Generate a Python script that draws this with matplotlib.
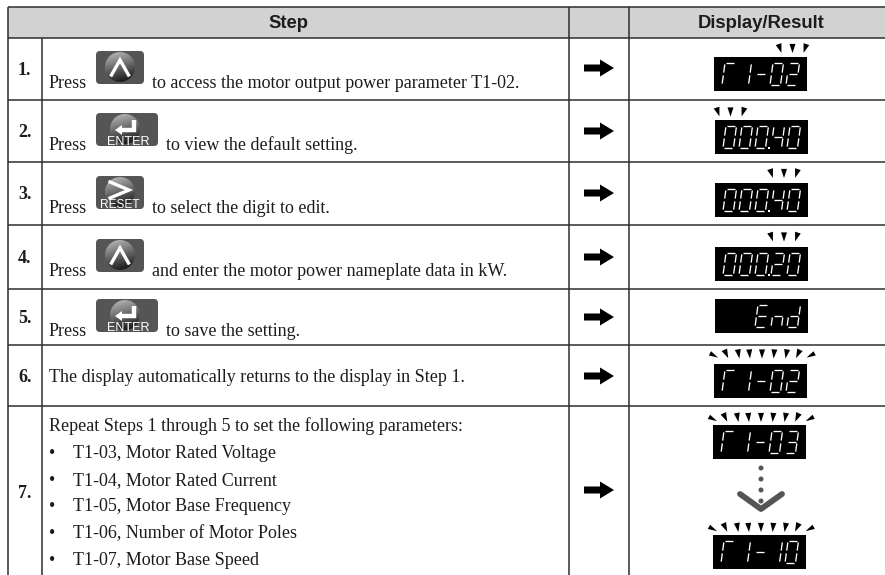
import numpy as np
import matplotlib
matplotlib.use("Agg")
import matplotlib.pyplot as plt
from matplotlib.patches import FancyBboxPatch, Circle, Polygon, Rectangle

# ---------- content ----------
headers = ["Step", "Display/Result"]
step_numbers = ["1.", "2.", "3.", "4.", "5.", "6.", "7."]
press_buttons = ["UP", "ENTER", "RESET", "UP", "ENTER"]
press_texts = ["to access the motor output power parameter T1-02.",
               "to view the default setting.",
               "to select the digit to edit.",
               "and enter the motor power nameplate data in kW.",
               "to save the setting."]
row6_text = "The display automatically returns to the display in Step 1."
row7_intro = "Repeat Steps 1 through 5 to set the following parameters:"
row7_bullets = ["T1-03, Motor Rated Voltage", "T1-04, Motor Rated Current",
                "T1-05, Motor Base Frequency", "T1-06, Number of Motor Poles",
                "T1-07, Motor Base Speed"]
# display: characters per slot, decimal slot, flashing marks
display_texts = ["T1-02", "00040", "00040", "00020", "  End", "T1-02", "T1-03", "T1-10"]
display_dots = [None, 2, 2, 2, None, None, None, None]

# ---------- layout (pixels) ----------
W, H = 885, 575
v_lines = [8, 42, 569, 629]
h_lines = [7, 37.5, 99.5, 162, 225, 289, 345, 406]
number_base = [75, 137, 199, 263, 323, 382, 498]
press_base = [88, 150, 213, 276, 336]
press_x = [152.5, 166, 152.5, 152.5, 166]
button_tops = [51, 113, 176, 239, 299]
arrow_y = [68, 131, 193, 257, 317, 376, 490]
rect_pos = [(714, 57), (715, 120), (715, 183), (715, 247), (715, 299), (714, 364), (713, 425), (713, 535)]
mark_spec = [(780, 48.5, 3), (718, 112, 3), (771.5, 173.5, 3), (771.5, 237, 3), None, (714, 354, 9), (713, 417.5, 9), (713, 527.5, 9)]

SERIF = "Liberation Serif"
SANS = "Liberation Sans"
DARK = "#2e2e2e"
TXT = "#1c1c1c"

fig = plt.figure(figsize=(W / 100, H / 100), dpi=100)
ax = fig.add_axes([0, 0, 1, 1])
ax.axis("off")

# header band
ax.add_patch(Rectangle((8, 7), W - 8, 30.5, fc="#d2d2d2", ec="none", zorder=0))
for y in h_lines:
    ax.plot([8, W], [y, y], color=DARK, lw=1.1, zorder=3, solid_capstyle="butt")
for i, x in enumerate(v_lines):
    top = 37.5 if x == 42 else 7
    ax.plot([x, x], [top, H], color=DARK, lw=1.1, zorder=3, solid_capstyle="butt")

ax.text(288.5, 28, headers[0], family=SANS, weight="bold", fontsize=13.3, ha="center", va="baseline", color=TXT)
ax.text(761, 28, headers[1], family=SANS, weight="bold", fontsize=13.3, ha="center", va="baseline", color=TXT)

for n, y in zip(step_numbers, number_base):
    ax.text(18, y, n, family=SERIF, weight="bold", fontsize=13, va="baseline", color=TXT)


def body(x, y, s):
    ax.text(x, y, s, family=SERIF, fontsize=13, va="baseline", color=TXT)


grad = np.linspace(0, 1, 64)
gx, gy = np.meshgrid(grad, grad)
grad_img = np.clip(0.75 - 0.62 * (0.25 * gx + 0.9 * gy), 0.12, 1)


def button(kind, x0, y0):
    w = 62 if kind == "ENTER" else 48
    h = 33
    ax.add_patch(FancyBboxPatch((x0 + 3, y0 + 3), w - 6, h - 6, boxstyle="round,pad=3,rounding_size=4",
                                fc="#555555", ec="none", zorder=2))
    cx = x0 + (29 if kind == "ENTER" else 24)
    cy = y0 + 16
    r = 15
    im = ax.imshow(grad_img, cmap="gray", vmin=0, vmax=1, extent=(cx - r, cx + r, cy + r, cy - r), zorder=3,
                   aspect="auto", interpolation="bilinear")
    clip = Circle((cx, cy), r, transform=ax.transData)
    im.set_clip_path(clip)
    if kind == "UP":
        ax.plot([cx - 8.5, cx, cx + 8.5], [cy + 8, cy - 7, cy + 8], color="white", lw=2.4, zorder=4,
                solid_joinstyle="miter")
    elif kind == "ENTER":
        ax.plot([cx + 9, cx + 9, cx - 5], [cy - 9, cy + 1, cy + 1], color="white", lw=3.2, zorder=4,
                solid_joinstyle="miter", solid_capstyle="butt")
        ax.add_patch(Polygon([(cx - 10, cy + 1), (cx - 3, cy - 4), (cx - 3, cy + 6)], fc="white", ec="none", zorder=4))
        ax.text(x0 + 32, y0 + 32, "ENTER", family=SANS, fontsize=9.1, color="white", ha="center", va="baseline", zorder=5)
    else:
        cy -= 2
        ax.plot([cx - 10, cx + 9, cx - 10], [cy - 8, cy, cy + 8], color="white", lw=2.4, zorder=4,
                solid_joinstyle="miter")
        ax.text(x0 + 24, y0 + 32.5, "RESET", family=SANS, fontsize=8.6, color="white", ha="center", va="baseline", zorder=5)


for i in range(5):
    body(49, press_base[i], "Press")
    body(press_x[i], press_base[i], press_texts[i])
    button(press_buttons[i], 96, button_tops[i])

body(49, 382, row6_text)
body(49, 431, row7_intro)
for s, y in zip(row7_bullets, [458, 485, 511, 538, 565]):
    ax.text(49.5, y, "\u2022", family=SERIF, fontsize=13, va="baseline", color=TXT)
    body(73, y, s)

# arrows
for y in arrow_y:
    ax.add_patch(Polygon([(584, y - 3.5), (600, y - 3.5), (600, y - 8.5), (614, y), (600, y + 8.5), (600, y + 3.5), (584, y + 3.5)],
                         fc="black", ec="none", zorder=4))

# seven-segment shapes
SEGS = {"0": "abcdef", "1": "bc", "2": "abged", "3": "abgcd", "4": "fgbc", "5": "afgcd",
        "-": "g", "T": "afe", "E": "afged", "n": "egc", "d": "bcdeg", " ": ""}
DW, DH, SL = 10.5, 22, 3.0


def seg_pts(name):
    g = 1.4
    m = DH / 2
    return {"a": ((g, 0), (DW - g, 0)), "b": ((DW, g), (DW, m - g)), "c": ((DW, m + g), (DW, DH - g)),
            "d": ((g, DH), (DW - g, DH)), "e": ((0, m + g), (0, DH - g)), "f": ((0, g), (0, m - g)),
            "g": ((g, m), (DW - g, m))}[name]


def draw_char(ch, x0, y0):
    for s in SEGS[ch]:
        (xa, ya), (xb, yb) = seg_pts(s)
        f = lambda x, y: (x0 + x + SL * (1 - y / DH), y0 + y)
        pa, pb = f(xa, ya), f(xb, yb)
        ax.plot([pa[0], pb[0]], [pa[1], pb[1]], color="white", lw=0.95, zorder=5, solid_capstyle="butt")


for (rx, ry), s, dot in zip(rect_pos, display_texts, display_dots):
    ax.add_patch(Rectangle((rx, ry), 93, 34, fc="black", ec="none", zorder=4))
    for k, ch in enumerate(s):
        draw_char(ch, rx + 8 + 16 * k, ry + 6)
    if dot is not None:
        sx = rx + 8 + 16 * dot + DW + 2.5
        ax.add_patch(Rectangle((sx, ry + 27), 1.5, 1.5, fc="white", ec="none", zorder=5))


def wedge(cx, cy, ang):
    t = np.radians(-ang)
    half = 2.4 if abs(ang) > 40 else 3.0
    pts = np.array([(-half, -4.6), (half, -4.6), (0, 4.6)])
    R = np.array([[np.cos(t), -np.sin(t)], [np.sin(t), np.cos(t)]])
    ax.add_patch(Polygon(pts @ R.T + (cx, cy), fc="black", ec="none", zorder=4))


ANG3 = [18, 0, -18]
ANG9 = [62, 25, 10, 5, 0, -5, -10, -25, -62]
OFF9 = [0, 12.3, 24.6, 35.6, 48, 60, 72.3, 84, 96.6]
for spec in mark_spec:
    if spec is None:
        continue
    x0, y0, n = spec
    if n == 3:
        for k, a in enumerate(ANG3):
            wedge(x0 + 12.5 * k, y0, a)
    else:
        for off, a in zip(OFF9, ANG9):
            wedge(x0 + off, y0 + (1.5 if abs(a) > 40 else 0), a)

# dots + chevron between last displays
for y in [468, 479, 490, 501]:
    ax.add_patch(Circle((761, y), 2.5, fc="#555555", ec="none", zorder=4))
ax.plot([740, 761, 782], [494, 509, 494], color="#555555", lw=4.2, solid_capstyle="round", solid_joinstyle="round", zorder=4)

ax.set_xlim(0, W)
ax.set_ylim(H, 0)
fig.savefig("out.png", dpi=100, facecolor="white")
